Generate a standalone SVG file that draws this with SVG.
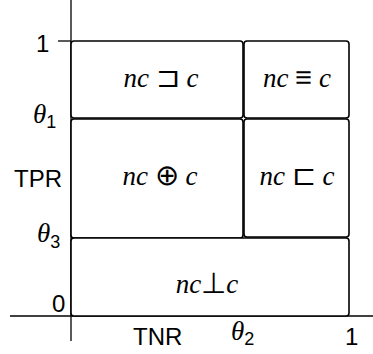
<svg xmlns="http://www.w3.org/2000/svg" width="373" height="354" viewBox="0 0 373 354">
<style>
.box{fill:#fff;stroke:#000;stroke-width:1.6}
.ax{stroke:#000;stroke-width:1.3;fill:none}
.lab{font-family:"Liberation Sans",Arial,sans-serif;font-size:24px;fill:#000}
.m{font-family:"Liberation Serif","DejaVu Serif",serif;font-size:27px;fill:#000;text-anchor:middle}
.t{font-family:"Liberation Serif","DejaVu Serif",serif;font-size:27px;fill:#000}
.i{font-style:italic}
.s{font-family:"DejaVu Sans",sans-serif;font-size:29px;font-weight:200}
.sub{font-family:"Liberation Sans",Arial,sans-serif;font-size:18px;font-style:normal}
</style>
<rect width="373" height="354" fill="#fff"/>
<g id="axes">
<line class="ax" x1="71" y1="0" x2="71" y2="341"/>
<line class="ax" x1="10" y1="316" x2="373" y2="316"/>
<line class="ax" x1="58" y1="41" x2="71" y2="41"/>
</g>
<g id="n1"><rect class="box" x="71" y="41" width="172" height="77" rx="3"/><text class="m" x="161" y="87"><tspan class="i">nc</tspan> <tspan class="s">⊐</tspan> <tspan class="i">c</tspan></text></g>
<g id="n2"><rect class="box" x="244" y="41" width="105" height="77" rx="3"/><text class="m" x="297" y="87"><tspan class="i">nc</tspan> <tspan class="s">≡</tspan> <tspan class="i">c</tspan></text></g>
<g id="n3"><rect class="box" x="71" y="119" width="172" height="119" rx="3"/><text class="m" x="160" y="185"><tspan class="i">nc</tspan> <tspan class="s">⊕</tspan> <tspan class="i">c</tspan></text></g>
<g id="n4"><rect class="box" x="244" y="119" width="105" height="118" rx="3"/><text class="m" x="297" y="185"><tspan class="i">nc</tspan> <tspan class="s">⊏</tspan> <tspan class="i">c</tspan></text></g>
<g id="n5"><rect class="box" x="71" y="238" width="278" height="78" rx="3"/><text class="m" x="207" y="293"><tspan class="i">nc</tspan><tspan class="s">⊥</tspan><tspan class="i">c</tspan></text></g>
<g id="labels">
<text class="lab" x="36" y="52">1</text>
<text class="lab" x="52" y="312">0</text>
<text class="lab" x="14" y="187">TPR</text>
<text class="lab" x="133" y="345">TNR</text>
<text class="lab" x="345" y="345">1</text>
<text class="t" x="33" y="123"><tspan class="i">θ</tspan><tspan class="sub" dy="5">1</tspan></text>
<text class="t" x="37" y="242"><tspan class="i">θ</tspan><tspan class="sub" dy="6">3</tspan></text>
<text class="t" x="231" y="340"><tspan class="i">θ</tspan><tspan class="sub" dy="5">2</tspan></text>
</g>
</svg>
